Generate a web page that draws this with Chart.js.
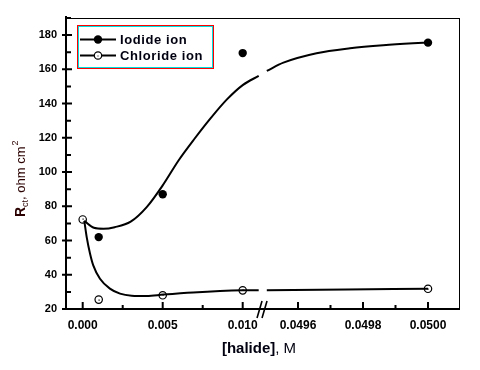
<!DOCTYPE html>
<html><head><meta charset="utf-8">
<script src="https://cdn.jsdelivr.net/npm/chart.js@4.4.0/dist/chart.umd.min.js"></script>
<style>html,body{margin:0;padding:0;background:#fff}#wrap{width:480px;height:370px}</style>
</head><body><div id="wrap"><canvas id="c" width="480" height="370"></canvas></div>
<script>
// ---- data (M, ohm cm2) ----
const iodideX = [0.001, 0.005, 0.010, 0.0500];
const iodideY = [62, 87, 169.5, 175.6];
const chlorideX = [0.000, 0.001, 0.005, 0.010, 0.0500];
const chlorideY = [72.3, 25.5, 28, 30.9, 31.8];

// fitted curves (left / right of axis break)
const iodideFitLeftX  = [0.0001, 0.0007, 0.0013, 0.002, 0.003, 0.004, 0.005, 0.006, 0.007, 0.008, 0.009, 0.010, 0.0110];
const iodideFitLeftY  = [71.5, 67.5, 66.9, 67.8, 71, 79.5, 92.2, 106.9, 119.6, 131.5, 142.3, 150.8, 156.2];
const iodideFitRightX = [0.049504, 0.049555, 0.049657, 0.04976, 0.049862, 0.049954, 0.0500];
const iodideFitRightY = [159.1, 163.9, 169.4, 172.3, 174.1, 175.2, 175.6];
const chlorideFitLeftX  = [0.0001, 0.00025, 0.00046, 0.00066, 0.00108, 0.0017, 0.00233, 0.00306, 0.004, 0.00504, 0.0069, 0.0100, 0.0110];
const chlorideFitLeftY  = [71.5, 62, 52.3, 45.5, 37.7, 31.9, 29, 27.8, 27.6, 28.4, 29.6, 30.9, 31.0];
const chlorideFitRightX = [0.049504, 0.04975, 0.0500];
const chlorideFitRightY = [31.0, 31.4, 31.8];

const seriesLabels = ['Iodide ion', 'Chloride ion'];
const xTickValues = [0.000, 0.005, 0.010, 0.0496, 0.0498, 0.0500];
const xTickLabels = ['0.000', '0.005', '0.010', '0.0496', '0.0498', '0.0500'];
const xMinorTicks = [0.0025, 0.0075, 0.0497, 0.0499];
const yTickValues = [20, 40, 60, 80, 100, 120, 140, 160, 180];
const yTickLabels = ['20', '40', '60', '80', '100', '120', '140', '160', '180'];
const yMinorTicks = [30, 50, 70, 90, 110, 130, 150, 170, 190];
const xBreak = 0.01127;

// broken x axis: map concentration to a continuous axis coordinate
function toU(x) { return x < 0.03 ? x * 16000 : 215.3 + (x - 0.0496) * 325000; }
function pts(xs, ys) { return xs.map((x, i) => ({ x: toU(x), y: ys[i] })); }

Chart.defaults.font.family = '"Liberation Sans", Arial, sans-serif';

const fitStyle = { showLine: true, pointRadius: 0, borderColor: '#000', borderWidth: 2, cubicInterpolationMode: 'monotone', fill: false };
const filledStyle = { pointStyle: 'circle', pointRadius: 4.2, pointBackgroundColor: '#000', pointBorderColor: '#000', pointBorderWidth: 0, showLine: false };
const hollowStyle = { pointStyle: 'circle', pointRadius: 3.7, pointBackgroundColor: '#fff', pointBorderColor: '#000', pointBorderWidth: 1.2, showLine: false };

function drawMarker(ctx, x, y, hollow) {
  ctx.beginPath();
  ctx.arc(x, y, hollow ? 3.7 : 4.2, 0, Math.PI * 2);
  if (hollow) {
    ctx.fillStyle = '#fff'; ctx.fill(); ctx.lineWidth = 1.2; ctx.strokeStyle = '#000'; ctx.stroke();
  } else { ctx.fillStyle = '#000'; ctx.fill(); }
  if (hollow) { ctx.fillStyle = '#000'; ctx.fillRect(Math.round(x) - 0.5, Math.round(y) - 0.5, 1, 1); }
}

const decor = {
  id: 'decor',
  afterDatasetsDraw(chart) {
    // center dots of the hollow markers
    const ctx = chart.ctx;
    const meta = chart.getDatasetMeta(5);
    ctx.save(); ctx.fillStyle = '#000';
    meta.data.forEach(p => ctx.fillRect(Math.round(p.x) - 0.5, Math.round(p.y) - 0.5, 1.2, 1.2));
    ctx.restore();
  },
  afterDraw(chart) {
    const ctx = chart.ctx, a = chart.chartArea, sx = chart.scales.x, sy = chart.scales.y;
    ctx.save();
    ctx.strokeStyle = '#000';
    // frame
    ctx.lineWidth = 1;
    ctx.beginPath(); ctx.moveTo(a.left, a.top + 0.5); ctx.lineTo(a.right, a.top + 0.5);
    ctx.moveTo(a.right - 0.5, a.top); ctx.lineTo(a.right - 0.5, a.bottom); ctx.stroke();
    ctx.lineWidth = 2;
    ctx.beginPath(); ctx.moveTo(a.left, a.top - 2); ctx.lineTo(a.left, a.bottom + 1);
    ctx.moveTo(a.left - 1, a.bottom); ctx.lineTo(a.right, a.bottom); ctx.stroke();
    // inward ticks
    ctx.lineWidth = 2;
    ctx.beginPath();
    yTickValues.forEach(v => { const y = sy.getPixelForValue(v); ctx.moveTo(a.left - 4, y); ctx.lineTo(a.left + 6, y); });
    yMinorTicks.forEach(v => { const y = sy.getPixelForValue(v); ctx.moveTo(a.left, y); ctx.lineTo(a.left + 5, y); });
    xTickValues.forEach(v => { const x = sx.getPixelForValue(toU(v)); ctx.moveTo(x, a.bottom); ctx.lineTo(x, a.bottom - 7); });
    xMinorTicks.forEach(v => { const x = sx.getPixelForValue(toU(v)); ctx.moveTo(x, a.bottom); ctx.lineTo(x, a.bottom - 4); });
    ctx.stroke();
    // axis break marks
    const bx = sx.getPixelForValue(toU(xBreak));
    ctx.lineWidth = 1.6;
    ctx.beginPath();
    ctx.moveTo(bx - 6, a.bottom + 9); ctx.lineTo(bx - 1, a.bottom - 8);
    ctx.moveTo(bx - 1, a.bottom + 9); ctx.lineTo(bx + 4, a.bottom - 8);
    ctx.stroke();
    // legend
    const lx = 77, ly = 25, lw = 136, lh = 43;
    ctx.lineWidth = 1;
    ctx.strokeStyle = '#ff0000'; ctx.strokeRect(lx + 0.5, ly + 0.5, lw, lh);
    ctx.strokeStyle = '#00e0e0'; ctx.strokeRect(lx + 1.5, ly + 1.5, lw - 2, lh - 2);
    const rows = [ly + 14.5, ly + 30.5];
    ctx.strokeStyle = '#000'; ctx.lineWidth = 2;
    rows.forEach((ry, i) => {
      ctx.beginPath(); ctx.moveTo(80, ry); ctx.lineTo(116, ry); ctx.stroke();
      drawMarker(ctx, 98, ry, i === 1);
    });
    ctx.fillStyle = '#000010';
    ctx.font = 'bold 13px "Liberation Sans", Arial, sans-serif';
    ctx.textBaseline = 'middle'; ctx.textAlign = 'left';
    try { ctx.letterSpacing = '0.6px'; } catch (e) {}
    seriesLabels.forEach((t, i) => ctx.fillText(t, 120, rows[i] + 0.5));
    try { ctx.letterSpacing = '0px'; } catch (e) {}
    // x title
    ctx.textBaseline = 'alphabetic';
    ctx.font = 'bold 15px "Liberation Sans", Arial, sans-serif';
    const t1 = '[halide]';
    const w1 = ctx.measureText(t1).width;
    ctx.font = '15px "Liberation Sans", Arial, sans-serif';
    const t2 = ', M';
    const w2 = ctx.measureText(t2).width;
    let x0 = 259 - (w1 + w2) / 2;
    ctx.font = 'bold 15px "Liberation Sans", Arial, sans-serif';
    ctx.fillText(t1, x0, 353);
    ctx.font = '15px "Liberation Sans", Arial, sans-serif';
    ctx.fillText(t2, x0 + w1, 353);
    // y title (rotated)
    ctx.translate(25, 217);
    ctx.rotate(-Math.PI / 2);
    ctx.fillStyle = '#2a0000';
    let px = 0;
    ctx.font = 'bold 14px "Liberation Sans", Arial, sans-serif';
    ctx.fillText('R', px, 0); px += ctx.measureText('R').width;
    ctx.font = '9px "Liberation Sans", Arial, sans-serif';
    ctx.fillText('ct', px, 3); px += ctx.measureText('ct').width;
    ctx.font = '13px "Liberation Sans", Arial, sans-serif';
    ctx.fillText(', ohm cm', px, 0); px += ctx.measureText(', ohm cm').width;
    ctx.font = '9px "Liberation Sans", Arial, sans-serif';
    ctx.fillText('2', px + 1, -7);
    ctx.restore();
  }
};

new Chart(document.getElementById('c'), {
  type: 'scatter',
  data: {
    datasets: [
      Object.assign({ label: 'Iodide fit', data: pts(iodideFitLeftX, iodideFitLeftY) }, fitStyle),
      Object.assign({ label: 'Iodide fit 2', data: pts(iodideFitRightX, iodideFitRightY) }, fitStyle),
      Object.assign({ label: 'Chloride fit', data: pts(chlorideFitLeftX, chlorideFitLeftY) }, fitStyle),
      Object.assign({ label: 'Chloride fit 2', data: pts(chlorideFitRightX, chlorideFitRightY) }, fitStyle),
      Object.assign({ label: seriesLabels[0], data: pts(iodideX, iodideY) }, filledStyle),
      Object.assign({ label: seriesLabels[1], data: pts(chlorideX, chlorideY) }, hollowStyle)
    ]
  },
  options: {
    responsive: false, animation: false, devicePixelRatio: 1,
    layout: { padding: { top: 18, right: 20, left: 0, bottom: 0 } },
    plugins: { legend: { display: false }, tooltip: { enabled: false } },
    scales: {
      x: {
        type: 'linear', min: -16.7, max: 377.3,
        grid: { display: false, drawTicks: false }, border: { display: false },
        afterBuildTicks: s => { s.ticks = xTickValues.map(v => ({ value: toU(v) })); },
        afterFit: s => { s.height = 61; },
        ticks: { autoSkip: false, maxRotation: 0, padding: 9, color: '#000', font: { size: 12, weight: 'bold' },
                 callback: (v, i) => xTickLabels[i] }
      },
      y: {
        min: 20, max: 190,
        grid: { display: false, drawTicks: false }, border: { display: false },
        afterBuildTicks: s => { s.ticks = yTickValues.map(v => ({ value: v })); },
        afterFit: s => { s.width = 66; },
        ticks: { padding: 9, color: '#000', font: { size: 11, weight: 'bold' },
                 callback: (v, i) => yTickLabels[i] }
      }
    }
  },
  plugins: [decor]
});
</script>
</body></html>
